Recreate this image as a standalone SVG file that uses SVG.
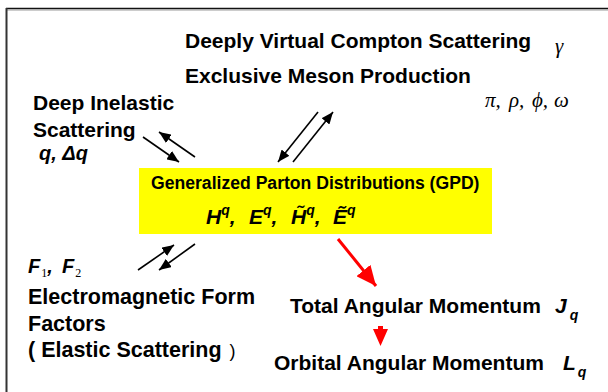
<svg xmlns="http://www.w3.org/2000/svg" width="608" height="392" viewBox="0 0 608 392">
<defs>
<style>
.t{font-family:"Liberation Sans",Arial,sans-serif;font-weight:bold;font-size:21px;fill:#000}
.bi{font-family:"Liberation Sans",Arial,sans-serif;font-weight:bold;font-style:italic;fill:#000}
.g{font-family:"Liberation Serif","Times New Roman",serif;font-style:italic;font-size:21px;fill:#000}
.sub{font-family:"Liberation Serif","Times New Roman",serif;font-style:normal;font-weight:normal;font-size:12px}
.blk{stroke:#000;stroke-width:1.6;fill:none}
.red{stroke:#ff0000;stroke-width:3;fill:none}
</style>
<marker id="ah" markerUnits="userSpaceOnUse" markerWidth="12" markerHeight="10" refX="12" refY="5" orient="auto">
<path d="M0,0 L12,5 L0,10 z" fill="#000"/>
</marker>
<marker id="rh" markerUnits="userSpaceOnUse" markerWidth="20" markerHeight="18" refX="20" refY="9" orient="auto">
<path d="M0,0 L20,9 L0,18 z" fill="#ff0000"/>
</marker>
</defs>
<rect width="608" height="392" fill="#fff"/>
<g id="frame">
<line x1="6" y1="8.5" x2="608" y2="8.5" stroke="#111" stroke-width="1.6"/>
<line x1="6" y1="10" x2="608" y2="10" stroke="#999" stroke-width="1"/>
<line x1="6.5" y1="8" x2="6.5" y2="392" stroke="#333" stroke-width="2"/>
</g>
<g id="gpd">
<rect x="139" y="168" width="353" height="66" fill="#ffff00"/>
<text class="t" x="151" y="189" style="font-size:17.6px">Generalized Parton Distributions (GPD)</text>
<text class="bi" y="224" style="font-size:21px"><tspan x="206">H</tspan><tspan dy="-9" style="font-size:14px">q</tspan><tspan dy="9">,</tspan><tspan x="249">E</tspan><tspan dy="-9" style="font-size:14px">q</tspan><tspan dy="9">,</tspan><tspan x="291">H̃</tspan><tspan dy="-9" style="font-size:14px">q</tspan><tspan dy="9">,</tspan><tspan x="333">Ẽ</tspan><tspan dy="-9" style="font-size:14px">q</tspan></text>
</g>
<g id="dvcs">
<text class="t" x="185" y="48">Deeply Virtual Compton Scattering</text>
<text class="g" x="555" y="53">γ</text>
</g>
<g id="meson">
<text class="t" x="185" y="83">Exclusive Meson Production</text>
<text class="g" y="107"><tspan x="485">π,</tspan><tspan x="509">ρ,</tspan><tspan x="532">ϕ,</tspan><tspan x="554">ω</tspan></text>
</g>
<g id="dis">
<text class="t" x="33" y="110">Deep Inelastic</text>
<text class="t" x="33" y="137">Scattering</text>
<text class="bi" x="39" y="160" style="font-size:20px">q, Δq</text>
</g>
<g id="emff">
<text class="bi" y="273" style="font-size:20px"><tspan x="28">F</tspan><tspan dx="1" dy="4" class="sub">1</tspan><tspan dy="-4">,</tspan><tspan x="62">F</tspan><tspan dx="1" dy="4" class="sub">2</tspan></text>
<text class="t" x="28" y="304" style="font-size:21.5px">Electromagnetic Form</text>
<text class="t" x="28" y="331" style="font-size:21.5px">Factors</text>
<text class="t" x="28" y="357" style="font-size:21.5px">( Elastic Scattering <tspan dx="2" style="font-weight:normal;font-size:18px">)</tspan></text>
</g>
<g id="total">
<text class="t" x="290" y="313">Total Angular Momentum</text>
<text class="bi" x="555" y="313" style="font-size:21px">J<tspan dx="3" dy="7" style="font-size:14px">q</tspan></text>
</g>
<g id="orbital">
<text class="t" x="274" y="370">Orbital Angular Momentum</text>
<text class="bi" x="563" y="370" style="font-size:21px">L<tspan dx="2" dy="7" style="font-size:14px">q</tspan></text>
</g>
<g id="connectors">
<line class="blk" x1="143" y1="137" x2="179" y2="162" marker-end="url(#ah)"/>
<line class="blk" x1="195" y1="157" x2="159" y2="132" marker-end="url(#ah)"/>
<line class="blk" x1="318" y1="112" x2="278" y2="162" marker-end="url(#ah)"/>
<line class="blk" x1="293" y1="162" x2="333" y2="112" marker-end="url(#ah)"/>
<line class="blk" x1="138" y1="270" x2="174" y2="245" marker-end="url(#ah)"/>
<line class="blk" x1="195" y1="244" x2="159" y2="270" marker-end="url(#ah)"/>
<line class="red" x1="338" y1="239" x2="376" y2="286" marker-end="url(#rh)"/>
<path d="M378,326 h5 v3 h5 l-7.5,17 l-7.5,-17 h5 z" fill="#ff0000"/>
</g>
</svg>
